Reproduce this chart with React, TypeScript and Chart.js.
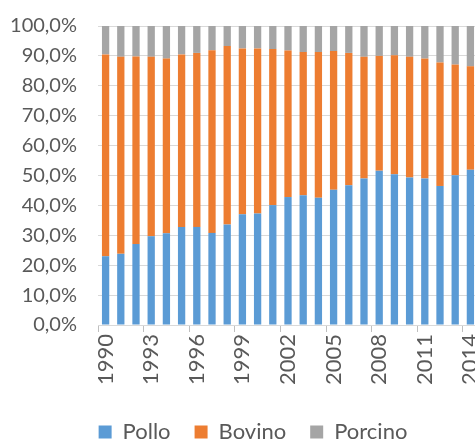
import React, { useEffect, useRef } from 'react';
import { Chart, registerables } from 'chart.js';

Chart.register(...registerables);

const years = [
  '1990', '1991', '1992', '1993', '1994', '1995', '1996', '1997', '1998', '1999',
  '2000', '2001', '2002', '2003', '2004', '2005', '2006', '2007', '2008', '2009',
  '2010', '2011', '2012', '2013', '2014',
];
const pollo = [
  23.0, 23.8, 27.1, 29.7, 30.7, 32.8, 32.8, 30.8, 33.6, 37.0,
  37.3, 40.1, 42.8, 43.4, 42.6, 45.2, 46.7, 49.0, 51.6, 50.4,
  49.3, 49.0, 46.5, 50.1, 51.9,
];
const bovino = [
  67.5, 65.9, 62.7, 60.0, 58.4, 57.7, 58.2, 61.1, 59.7, 55.5,
  55.2, 52.2, 49.0, 47.9, 48.7, 46.4, 44.3, 40.7, 38.4, 39.8,
  40.4, 40.1, 41.3, 37.0, 34.6,
];
const porcino = [
  9.5, 10.3, 10.2, 10.3, 10.9, 9.5, 9.0, 8.1, 6.7, 7.5,
  7.5, 7.7, 8.2, 8.7, 8.7, 8.4, 9.0, 10.3, 10.0, 9.8,
  10.3, 10.9, 12.2, 12.9, 13.5,
];
const seriesNames = ['Pollo', 'Bovino', 'Porcino'];
const seriesColors = ['#5B9BD5', '#ED7D31', '#A5A5A5'];

const FONT = 'Lato, "Open Sans", sans-serif';
const TEXT = '#595959';

const shiftLegend = {
  id: 'shiftLegend',
  afterLayout(chart: any) {
    if (chart.legend) {
      chart.legend.left += 14;
      chart.legend.right += 14;
    }
  },
};

export default function App() {
  const ref = useRef<HTMLCanvasElement | null>(null);

  useEffect(() => {
    if (!ref.current) return;
    const values = [pollo, bovino, porcino];
    const chart = new Chart(ref.current, {
      type: 'bar',
      data: {
        labels: years,
        datasets: seriesNames.map((name, i) => ({
          label: name,
          data: values[i],
          backgroundColor: seriesColors[i],
          borderWidth: 0,
          categoryPercentage: 1,
          barPercentage: 0.48,
        })),
      },
      plugins: [shiftLegend],
      options: {
        responsive: false,
        animation: false,
        layout: { padding: { top: 26, right: 32, left: 0, bottom: 0 } },
        plugins: {
          tooltip: { enabled: false },
          legend: {
            position: 'bottom',
            labels: {
              boxWidth: 13,
              boxHeight: 13,
              padding: 24,
              color: TEXT,
              font: { family: FONT, size: 22 },
            },
          },
        },
        scales: {
          x: {
            stacked: true,
            afterFit: (s: any) => { s.height = 72; },
            grid: {
              offset: true,
              drawOnChartArea: false,
              tickLength: 7,
              color: (ctx: any) => (ctx.index % 3 === 0 ? '#BFBFBF' : 'rgba(0,0,0,0)'),
            },
            border: { display: true, color: '#D9D9D9' },
            ticks: {
              autoSkip: false,
              maxRotation: 90,
              minRotation: 90,
              padding: 2,
              color: TEXT,
              font: { family: FONT, size: 22 },
              callback: (_v: any, idx: number) => (idx % 3 === 0 ? years[idx] : ''),
            },
          },
          y: {
            stacked: true,
            min: 0,
            max: 100,
            afterFit: (s: any) => { s.width = 98; },
            grid: { color: '#D9D9D9', drawTicks: true, tickLength: 16, tickColor: 'rgba(0,0,0,0)' },
            border: { display: false },
            ticks: {
              stepSize: 10,
              padding: 5,
              color: TEXT,
              font: { family: FONT, size: 20 },
              callback: (v: any) => Number(v).toFixed(1).replace('.', ',') + '%',
            },
          },
        },
      },
    });
    return () => chart.destroy();
  }, []);

  return (
    <div style={{ position: 'fixed', left: 0, top: 0, width: 475, height: 443, overflow: 'hidden', background: '#fff' }}>
      <canvas ref={ref} width={510} height={453} />
    </div>
  );
}
